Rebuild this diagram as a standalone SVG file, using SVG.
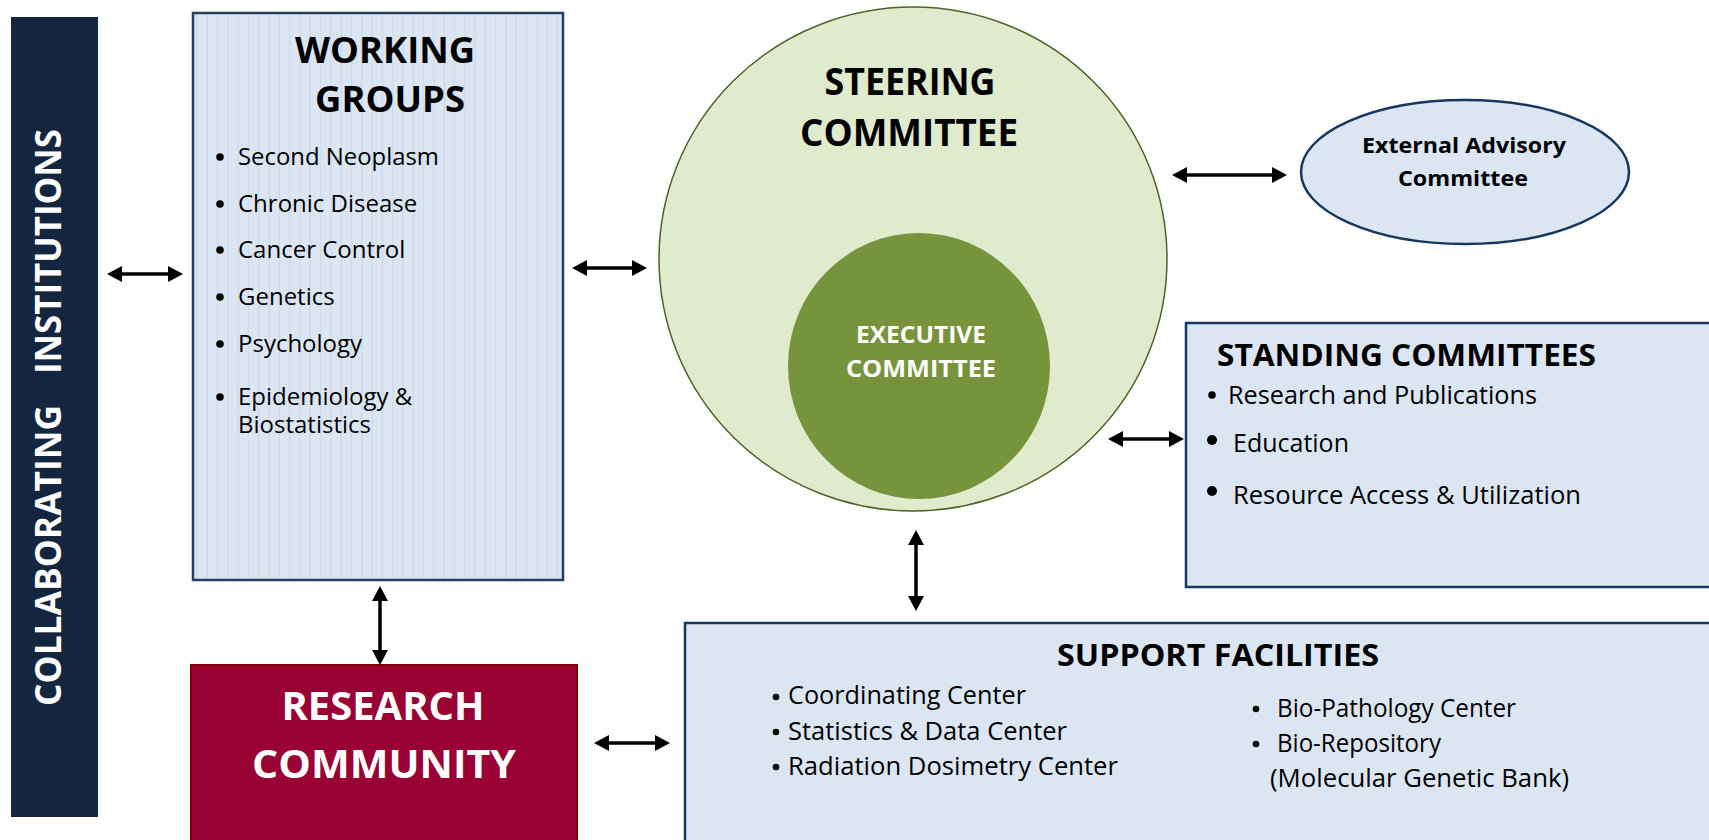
<svg xmlns="http://www.w3.org/2000/svg" width="1709" height="840" viewBox="0 0 1709 840">
<style>
.b{font-family:"Open Sans","Liberation Sans",sans-serif;font-weight:700}
.r{font-family:"Open Sans","Liberation Sans",sans-serif;font-weight:400;fill:#000}
.w{fill:#fff}
.k{fill:#000}
.c{text-anchor:middle}
.bul{fill:#000}
.conn line{stroke:#000;stroke-width:3.5;fill:none;marker-start:url(#ah);marker-end:url(#ah)}
</style>
<defs>
<marker id="ah" viewBox="0 0 15 16" markerWidth="15" markerHeight="16" refX="7" refY="8" markerUnits="userSpaceOnUse" orient="auto-start-reverse">
<path d="M0,0 L15,8 L0,16 z" fill="#000"/>
</marker>
<pattern id="vl" width="10.3" height="20" patternUnits="userSpaceOnUse" x="193" y="0">
<rect width="10.3" height="20" fill="#dce6f2"/>
<line x1="4" y1="0" x2="4" y2="20" stroke="#c8d6ea" stroke-width="1"/>
</pattern>
</defs>
<rect width="1709" height="840" fill="#fff"/>

<g id="collaborating-institutions">
<rect x="11" y="17" width="87" height="800" fill="#14263f"/>
<text class="b w" font-size="36" transform="translate(61,706) rotate(-90)" textLength="301" lengthAdjust="spacingAndGlyphs">COLLABORATING</text>
<text class="b w" font-size="36" transform="translate(61,374) rotate(-90)" textLength="245" lengthAdjust="spacingAndGlyphs">INSTITUTIONS</text>
</g>

<g id="working-groups">
<rect x="193" y="13" width="370" height="567" fill="url(#vl)" stroke="#243f60" stroke-width="2.5"/>
<text class="b k c" x="385" y="63" font-size="36" textLength="180" lengthAdjust="spacingAndGlyphs">WORKING</text>
<text class="b k c" x="390" y="112" font-size="36" textLength="150" lengthAdjust="spacingAndGlyphs">GROUPS</text>
<g class="bul">
<circle cx="220" cy="157" r="3.8"/>
<circle cx="220" cy="204" r="3.8"/>
<circle cx="220" cy="250" r="3.8"/>
<circle cx="220" cy="297" r="3.8"/>
<circle cx="220" cy="344" r="3.8"/>
<circle cx="220" cy="397" r="3.8"/>
</g>
<g class="r" font-size="24">
<text x="238" y="165" textLength="201" lengthAdjust="spacingAndGlyphs">Second Neoplasm</text>
<text x="238" y="212">Chronic Disease</text>
<text x="238" y="258">Cancer Control</text>
<text x="238" y="305">Genetics</text>
<text x="238" y="352">Psychology</text>
<text x="238" y="405">Epidemiology &amp;<tspan x="238" dy="28">Biostatistics</tspan></text>
</g>
</g>

<g id="research-community">
<rect x="191" y="665" width="386" height="185" fill="#990033" stroke="#800000" stroke-width="2"/>
<text class="b w c" x="383" y="720" font-size="40" textLength="203" lengthAdjust="spacingAndGlyphs">RESEARCH</text>
<text class="b w c" x="384" y="778" font-size="40" textLength="264" lengthAdjust="spacingAndGlyphs">COMMUNITY</text>
</g>

<g id="steering-committee">
<ellipse cx="913" cy="259" rx="254" ry="252" fill="#e0eacd" stroke="#4f6228" stroke-width="1.5"/>
<text class="b k c" x="910" y="95" font-size="37" textLength="171" lengthAdjust="spacingAndGlyphs">STEERING</text>
<text class="b k c" x="909" y="146" font-size="37" textLength="218" lengthAdjust="spacingAndGlyphs">COMMITTEE</text>
</g>

<g id="executive-committee">
<ellipse cx="919" cy="366" rx="131" ry="133" fill="#77933c"/>
<text class="b w c" x="921" y="343" font-size="24" textLength="130" lengthAdjust="spacingAndGlyphs">EXECUTIVE</text>
<text class="b w c" x="921" y="377" font-size="24" textLength="150" lengthAdjust="spacingAndGlyphs">COMMITTEE</text>
</g>

<g id="external-advisory-committee">
<ellipse cx="1465" cy="172" rx="164" ry="72" fill="#dce6f2" stroke="#17375e" stroke-width="2.5"/>
<text class="b k c" x="1464" y="153" font-size="22" textLength="204" lengthAdjust="spacingAndGlyphs">External Advisory</text>
<text class="b k c" x="1463" y="186" font-size="22" textLength="130" lengthAdjust="spacingAndGlyphs">Committee</text>
</g>

<g id="standing-committees">
<rect x="1186" y="323" width="530" height="264" fill="#dce6f2" stroke="#17375e" stroke-width="2.5"/>
<text class="b k" x="1217" y="366" font-size="30" textLength="379" lengthAdjust="spacingAndGlyphs">STANDING COMMITTEES</text>
<g class="bul">
<circle cx="1212" cy="395" r="3.8"/>
<circle cx="1212" cy="440" r="5"/>
<circle cx="1212" cy="491" r="5"/>
</g>
<g class="r" font-size="25">
<text x="1228" y="404" textLength="309" lengthAdjust="spacingAndGlyphs">Research and Publications</text>
<text x="1233" y="452">Education</text>
<text x="1233" y="504" textLength="348" lengthAdjust="spacingAndGlyphs">Resource Access &amp; Utilization</text>
</g>
</g>

<g id="support-facilities">
<rect x="685" y="623" width="1040" height="230" fill="#dce6f2" stroke="#17375e" stroke-width="2.5"/>
<text class="b k c" x="1218" y="666" font-size="31" textLength="322" lengthAdjust="spacingAndGlyphs">SUPPORT FACILITIES</text>
<g class="bul">
<circle cx="776" cy="697" r="3.3"/>
<circle cx="776" cy="732" r="3.3"/>
<circle cx="776" cy="767" r="3.3"/>
<circle cx="1256" cy="709" r="3.3"/>
<circle cx="1256" cy="744" r="3.3"/>
</g>
<g class="r" font-size="25">
<text x="788" y="704" textLength="238" lengthAdjust="spacingAndGlyphs">Coordinating Center</text>
<text x="788" y="740" textLength="279" lengthAdjust="spacingAndGlyphs">Statistics &amp; Data Center</text>
<text x="788" y="775" textLength="330" lengthAdjust="spacingAndGlyphs">Radiation Dosimetry Center</text>
<text x="1277" y="717" textLength="239" lengthAdjust="spacingAndGlyphs">Bio-Pathology Center</text>
<text x="1277" y="752" textLength="164" lengthAdjust="spacingAndGlyphs">Bio-Repository</text>
<text x="1270" y="787" textLength="299" lengthAdjust="spacingAndGlyphs">(Molecular Genetic Bank)</text>
</g>
</g>

<g id="connectors" class="conn">
<line x1="115" y1="274" x2="175" y2="274"/>
<line x1="580" y1="268" x2="639" y2="268"/>
<line x1="1180" y1="175" x2="1279" y2="175"/>
<line x1="1116" y1="439" x2="1176" y2="439"/>
<line x1="916" y1="538" x2="916" y2="603"/>
<line x1="380" y1="594" x2="380" y2="657"/>
<line x1="602" y1="743" x2="662" y2="743"/>
</g>
</svg>
